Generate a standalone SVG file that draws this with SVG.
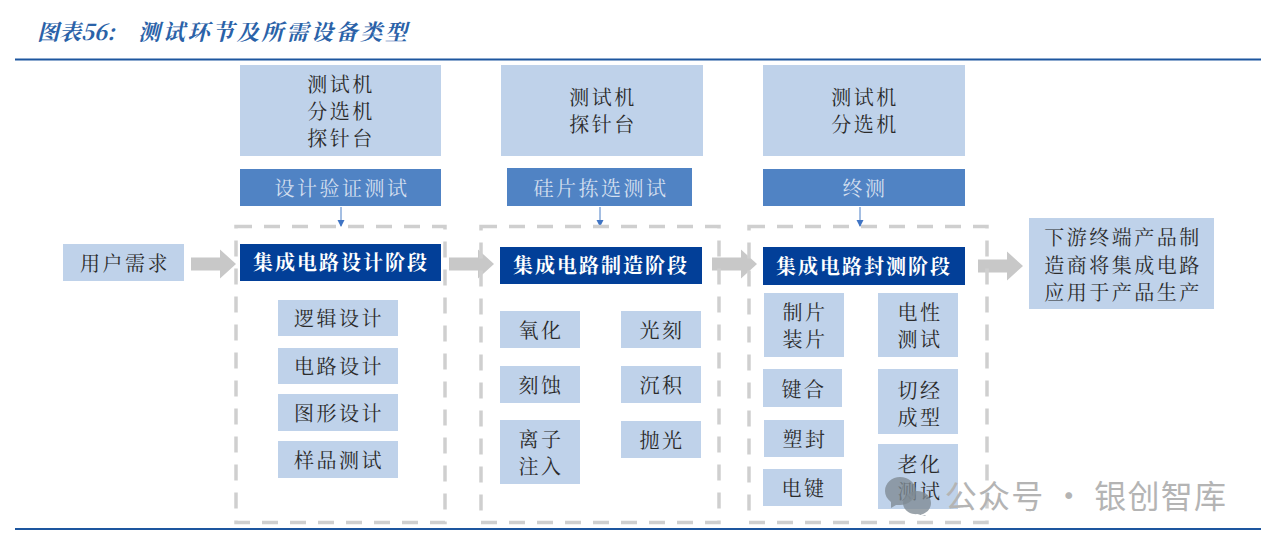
<svg xmlns="http://www.w3.org/2000/svg" width="1268" height="548" viewBox="0 0 1268 548">
<style>
text{font-family:"Noto Serif CJK SC","Noto Sans CJK SC","Noto Sans CJK JP",sans-serif;text-anchor:middle;font-size:20px;letter-spacing:2.500px;fill:#2b2b2b}
.l{fill:#bfd2ea}.m{fill:#5083c4}.d{fill:#023f98}
.w{fill:#d3dfef}.wt{fill:#fff;font-weight:700}
.dash{fill:none;stroke:#cfcfcf;stroke-width:3.5;stroke-dasharray:16 12}
.rule{stroke:#1d569f;stroke-width:2}
.blk{fill:#c8c8c8}
.s{fill:none;stroke:#4a7fc6;stroke-width:1}
.ti{text-anchor:start;font-size:22px;font-style:italic;font-weight:700;fill:#2a62a8}
.ic{fill:#7f8a94;opacity:.78}
</style>
<defs>
<marker id="a" markerWidth="8" markerHeight="8" refX="6" refY="3.500" orient="auto"><path d="M0 0L7 3.500L0 7z" fill="#3f74c4"/></marker>
<path id="ba" d="M0 -6.500H29V-14.500L45 0L29 14.500V6.500H0z"/>
</defs>
<rect width="1268" height="548" fill="#fff"/>
<text class="ti" x="37" y="40" style="letter-spacing:0">图表56:</text>
<text class="ti" x="138" y="40" style="letter-spacing:2.700px">测试环节及所需设备类型</text>
<line class="rule" x1="15" y1="59.500" x2="1261" y2="59.500"/>
<line class="rule" x1="15" y1="529" x2="1261" y2="529"/>
<g id="connectors">
<use href="#ba" class="blk" x="191" y="264"/>
<use href="#ba" class="blk" x="449" y="264"/>
<use href="#ba" class="blk" x="712" y="264"/>
<use href="#ba" class="blk" x="978" y="266"/>
<line class="s" x1="341" y1="207" x2="341" y2="226" marker-end="url(#a)"/>
<line class="s" x1="600" y1="207" x2="600" y2="226" marker-end="url(#a)"/>
<line class="s" x1="860" y1="207" x2="860" y2="226" marker-end="url(#a)"/>
</g>
<g id="frame1"><rect class="dash" x="236" y="226.500" width="209" height="296"/></g>
<g id="frame2"><rect class="dash" x="481" y="226.500" width="238" height="296"/></g>
<g id="frame3"><rect class="dash" x="749" y="226.500" width="238" height="296"/></g>
<g id="user"><rect class="l" x="63" y="244" width="121" height="37"/><text x="125" y="271">用户需求</text></g>
<g id="eq1"><rect class="l" x="240" y="65" width="201" height="91"/><text x="341" y="92">测试机</text><text x="341" y="119">分选机</text><text x="341" y="146">探针台</text></g>
<g id="eq2"><rect class="l" x="501" y="65" width="202" height="91"/><text x="603" y="105">测试机</text><text x="603" y="132">探针台</text></g>
<g id="eq3"><rect class="l" x="763" y="65" width="202" height="91"/><text x="865" y="105">测试机</text><text x="865" y="132">分选机</text></g>
<g id="t1"><rect class="m" x="240" y="169" width="201" height="37"/><text class="w" x="342" y="196">设计验证测试</text></g>
<g id="t2"><rect class="m" x="507" y="168" width="185" height="38"/><text class="w" x="601" y="196">硅片拣选测试</text></g>
<g id="t3"><rect class="m" x="763" y="169" width="202" height="37"/><text class="w" x="865" y="196">终测</text></g>
<g id="s1"><rect class="d" x="240" y="244" width="201" height="37"/><text class="wt" x="341" y="270" style="letter-spacing:2px">集成电路设计阶段</text></g>
<g id="s2"><rect class="d" x="500" y="247" width="202" height="37"/><text class="wt" x="601" y="273" style="letter-spacing:2px">集成电路制造阶段</text></g>
<g id="s3"><rect class="d" x="763" y="247" width="202" height="38"/><text class="wt" x="864" y="274" style="letter-spacing:2px">集成电路封测阶段</text></g>
<g id="a1"><rect class="l" x="278" y="300" width="120" height="36"/><text x="339" y="326">逻辑设计</text></g>
<g id="a2"><rect class="l" x="278" y="348" width="120" height="36"/><text x="339" y="374">电路设计</text></g>
<g id="a3"><rect class="l" x="278" y="394" width="120" height="37"/><text x="339" y="421">图形设计</text></g>
<g id="a4"><rect class="l" x="278" y="441" width="120" height="37"/><text x="339" y="468">样品测试</text></g>
<g id="b1"><rect class="l" x="500" y="311" width="80" height="37"/><text x="541" y="338">氧化</text></g>
<g id="b2"><rect class="l" x="500" y="366" width="80" height="37"/><text x="541" y="393">刻蚀</text></g>
<g id="b3"><rect class="l" x="500" y="420" width="80" height="64"/><text x="541" y="447">离子</text><text x="541" y="474">注入</text></g>
<g id="b4"><rect class="l" x="621" y="311" width="80" height="37"/><text x="662" y="338">光刻</text></g>
<g id="b5"><rect class="l" x="621" y="366" width="80" height="37"/><text x="662" y="393">沉积</text></g>
<g id="b6"><rect class="l" x="621" y="421" width="80" height="37"/><text x="662" y="448">抛光</text></g>
<g id="c1"><rect class="l" x="764" y="293" width="80" height="64"/><text x="805" y="320">制片</text><text x="805" y="347">装片</text></g>
<g id="c2"><rect class="l" x="763" y="369" width="79" height="38"/><text x="804" y="397">键合</text></g>
<g id="c3"><rect class="l" x="764" y="420" width="80" height="37"/><text x="805" y="447">塑封</text></g>
<g id="c4"><rect class="l" x="763" y="469" width="79" height="37"/><text x="804" y="496">电键</text></g>
<g id="c5"><rect class="l" x="878" y="293" width="80" height="64"/><text x="920" y="320">电性</text><text x="920" y="347">测试</text></g>
<g id="c6"><rect class="l" x="878" y="369" width="80" height="65"/><text x="920" y="398">切经</text><text x="920" y="425">成型</text></g>
<g id="c7"><rect class="l" x="878" y="444" width="80" height="65"/><text x="920" y="472">老化</text><text x="920" y="499">测试</text></g>
<g id="end"><rect class="l" x="1029" y="218" width="185" height="91"/><text x="1123" y="245">下游终端产品制</text><text x="1123" y="273">造商将集成电路</text><text x="1123" y="300">应用于产品生产</text></g>
<g id="mark">
<path class="ic" d="M885 491C885 483 892 477 900 477C908 477 916 483 916 491C916 499 908 505 900 505L896 505L891 508L891 502C887 499 885 495 885 491z"/>
<path class="ic" d="M903 503C903 496 910 491 917 491C925 491 931 496 931 503C931 510 925 515 917 515L925 515L926 516L918 514C910 515 903 510 903 503z"/>
<text x="1086" y="508" style="font-size:32px;letter-spacing:1.200px;fill:#b4b4b4;font-family:'Noto Sans CJK SC',sans-serif">公众号 · 银创智库</text>
</g>
</svg>
